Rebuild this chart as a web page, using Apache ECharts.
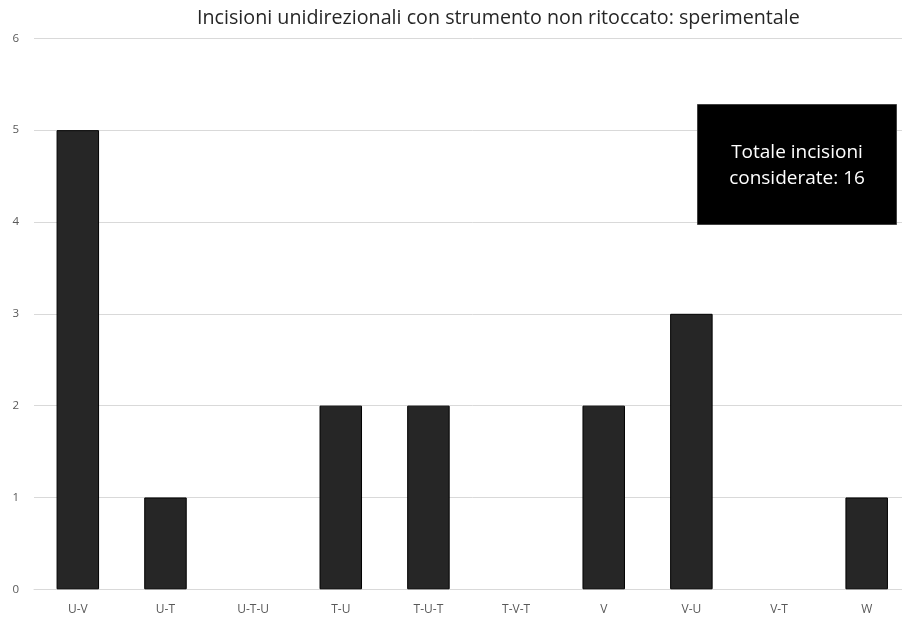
<!DOCTYPE html>
<html>
<head>
<meta charset="utf-8">
<script src="https://cdn.jsdelivr.net/npm/echarts@6/dist/echarts.min.js"></script>
<style>
  html, body { margin: 0; padding: 0; background: #fff; overflow: hidden; }
  /* the plot area runs slightly past the visible right edge */
  #chart { width: 911px; height: 619px; }
</style>
</head>
<body>
<div id="chart"></div>
<script>
// Incision patterns and how many times each was counted
const categories = ['U-V', 'U-T', 'U-T-U', 'T-U', 'T-U-T', 'T-V-T', 'V', 'V-U', 'V-T', 'W'];
const counts = [5, 1, 0, 2, 2, 0, 2, 3, 0, 1];
const yTicks = [0, 1, 2, 3, 4, 5, 6];
const chartTitle = 'Incisioni unidirezionali con strumento non ritoccato: sperimentale';
const noteLines = ['Totale incisioni', 'considerate: ' + counts.reduce((a, b) => a + b, 0)];

const FONT = '"Open Sans", "DejaVu Sans", sans-serif';
const chart = echarts.init(document.getElementById('chart'), null, { renderer: 'canvas' });

chart.setOption({
  animation: false,
  backgroundColor: '#ffffff',
  title: {
    text: chartTitle,
    left: 192,
    top: 3,
    textStyle: { fontFamily: FONT, fontSize: 19.7, fontWeight: 'normal', color: '#262626' }
  },
  grid: { left: 34, right: 0.5, top: 38.3, bottom: 29.7, containLabel: false },
  xAxis: {
    type: 'category',
    data: categories,
    axisLine: { show: true, lineStyle: { color: '#d9d9d9', width: 1 } },
    axisTick: { show: false },
    axisLabel: { fontFamily: FONT, fontSize: 12, color: '#595959', margin: 14 }
  },
  yAxis: {
    type: 'value',
    min: yTicks[0],
    max: yTicks[yTicks.length - 1],
    interval: 1,
    axisLine: { show: false },
    axisTick: { show: false },
    splitLine: { lineStyle: { color: '#d9d9d9', width: 1 } },
    axisLabel: { fontFamily: FONT, fontSize: 11.5, color: '#595959', margin: 15 }
  },
  series: [{
    type: 'bar',
    data: counts.map(v => ({ value: v, itemStyle: { borderWidth: v > 0 ? 1 : 0 } })),
    barWidth: 42.5,
    itemStyle: { color: '#262626', borderColor: '#000000' }
  }],
  graphic: [{
    type: 'group',
    left: 697,
    top: 104,
    z: 100,
    children: [{
      type: 'rect',
      z: 100,
      shape: { x: 0, y: 0, width: 199, height: 120 },
      style: { fill: '#000000', stroke: '#404040', lineWidth: 1 }
    }, {
      type: 'text',
      z: 101,
      x: 99.5,
      y: 61,
      style: {
        text: noteLines.join('\n'),
        fill: '#ffffff',
        font: '19px "Open Sans", sans-serif',
        lineHeight: 26,
        align: 'center',
        verticalAlign: 'middle'
      }
    }]
  }]
});
</script>
</body>
</html>
